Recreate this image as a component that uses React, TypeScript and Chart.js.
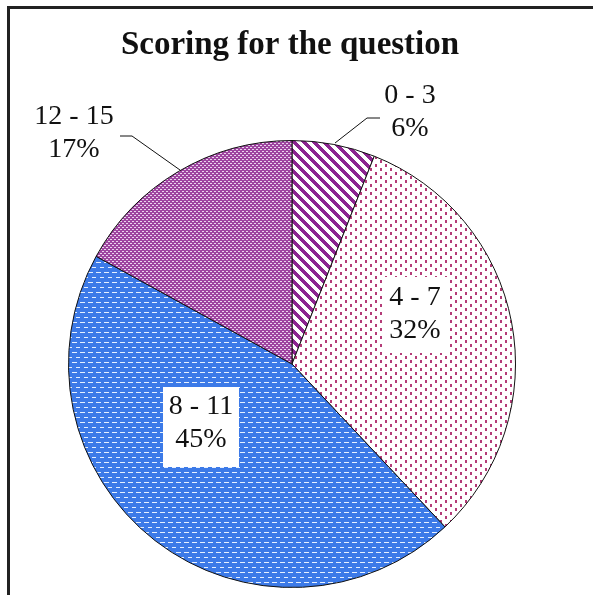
import React, { useEffect, useRef } from "react";
import { Chart, registerables } from "chart.js";

Chart.register(...registerables);

const TITLE = "Scoring for the question";
const CATEGORIES = ["0 - 3", "4 - 7", "8 - 11", "12 - 15"];
const VALUES = [6, 32, 45, 17];
const PERCENT_LABELS = ["6%", "32%", "45%", "17%"];

const FONT = '"Liberation Serif", "Times New Roman", serif';

function pixelPattern(
  ctx: CanvasRenderingContext2D,
  w: number,
  h: number,
  fn: (x: number, y: number) => [number, number, number]
): CanvasPattern | string {
  const c = document.createElement("canvas");
  c.width = w;
  c.height = h;
  const g = c.getContext("2d")!;
  const img = g.createImageData(w, h);
  for (let y = 0; y < h; y++) {
    for (let x = 0; x < w; x++) {
      const [r, gg, b] = fn(x, y);
      const i = (y * w + x) * 4;
      img.data[i] = r;
      img.data[i + 1] = gg;
      img.data[i + 2] = b;
      img.data[i + 3] = 255;
    }
  }
  g.putImageData(img, 0, 0);
  return ctx.createPattern(c, "repeat") || "#888";
}

const WHITE: [number, number, number] = [255, 255, 255];
const PURPLE: [number, number, number] = [140, 36, 144];
const MAGENTA: [number, number, number] = [180, 60, 120];
const BLUE: [number, number, number] = [60, 122, 232];
const DASH: [number, number, number] = [230, 240, 255];
const MAUVE: [number, number, number] = [158, 68, 160];
const LILAC: [number, number, number] = [236, 212, 238];

function makePatterns(ctx: CanvasRenderingContext2D) {
  const stripes = pixelPattern(ctx, 10, 10, (x, y) =>
    (((x - y) % 10) + 10) % 10 < 5 ? PURPLE : WHITE
  );
  const dots = pixelPattern(ctx, 10, 8, (x, y) => {
    if (x < 2 && y < 3) return MAGENTA;
    if (x >= 5 && x < 7 && y >= 4 && y < 7) return MAGENTA;
    return WHITE;
  });
  const dashes = pixelPattern(ctx, 8, 10, (x, y) => {
    if (y === 2 && x < 5) return DASH;
    if (y === 7 && x >= 4) return DASH;
    return BLUE;
  });
  const weave = pixelPattern(ctx, 4, 4, (x, y) => {
    if (y === 0 || y === 2) return MAUVE;
    if (y === 1) return x < 2 ? LILAC : MAUVE;
    return x >= 2 ? LILAC : MAUVE;
  });
  return [stripes, dots, dashes, weave];
}

type LabelSpec = {
  x: number;
  y: number;
  box?: [number, number, number, number];
  leader?: [number, number][];
};

const LABEL_SPECS: LabelSpec[] = [
  { x: 410, y: 96, leader: [[335, 143], [367, 118], [380, 118]] },
  { x: 415, y: 298, box: [382, 277, 66, 76] },
  { x: 201, y: 407, box: [163, 387, 76, 80] },
  { x: 74, y: 117, leader: [[180, 170], [132, 136], [120, 136]] },
];

const decorPlugin = {
  id: "decor",
  afterDraw(chart: any) {
    const ctx: CanvasRenderingContext2D = chart.ctx;
    ctx.save();
    // frame (left + top)
    ctx.fillStyle = "#222";
    ctx.fillRect(7, 6, 3, 589);
    ctx.fillRect(7, 6, 586, 3);
    // title
    ctx.fillStyle = "#111";
    ctx.font = `bold 33px ${FONT}`;
    ctx.textAlign = "center";
    ctx.textBaseline = "alphabetic";
    ctx.fillText(TITLE, 290, 54);
    // labels
    CATEGORIES.forEach((cat, i) => {
      const s = LABEL_SPECS[i];
      if (s.leader) {
        ctx.strokeStyle = "#111";
        ctx.lineWidth = 1;
        ctx.beginPath();
        s.leader.forEach(([px, py], k) => {
          if (k === 0) ctx.moveTo(px, py);
          else ctx.lineTo(px, py);
        });
        ctx.stroke();
      }
      if (s.box) {
        ctx.fillStyle = "#fff";
        ctx.fillRect(s.box[0], s.box[1], s.box[2], s.box[3]);
      }
      ctx.fillStyle = "#111";
      ctx.font = `28px ${FONT}`;
      ctx.textAlign = "center";
      ctx.textBaseline = "middle";
      ctx.fillText(cat, s.x, s.y);
      ctx.fillText(PERCENT_LABELS[i], s.x, s.y + 33);
    });
    ctx.restore();
  },
};

export default function App() {
  const ref = useRef<HTMLCanvasElement | null>(null);
  useEffect(() => {
    const canvas = ref.current!;
    const ctx = canvas.getContext("2d")!;
    const patterns = makePatterns(ctx);
    const chart = new Chart(canvas, {
      type: "pie",
      data: {
        labels: CATEGORIES,
        datasets: [
          {
            data: VALUES,
            backgroundColor: patterns as any,
            borderColor: "#111",
            borderWidth: 1,
          },
        ],
      },
      options: {
        animation: false,
        responsive: false,
        maintainAspectRatio: false,
        layout: { padding: { left: 68, right: 77, top: 140, bottom: 7 } },
        plugins: {
          legend: { display: false },
          title: { display: false },
          tooltip: { enabled: false },
        },
      },
      plugins: [decorPlugin],
    });
    return () => chart.destroy();
  }, []);
  return (
    <div style={{ position: "fixed", left: 0, top: 0, width: 593, height: 595, background: "#fff" }}>
      <canvas ref={ref} width={593} height={595} style={{ display: "block", width: 593, height: 595 }} />
    </div>
  );
}
